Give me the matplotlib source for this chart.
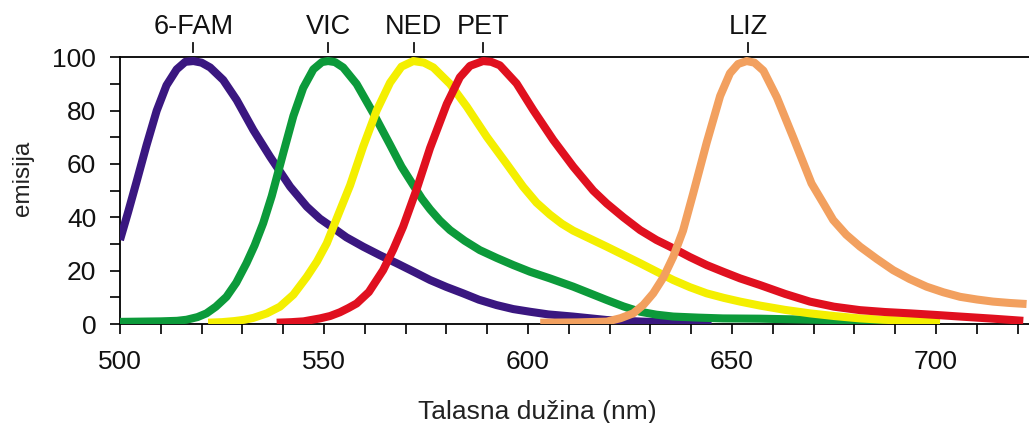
"""Emission spectra of the five capillary-electrophoresis dyes (6-FAM, VIC, NED, PET, LIZ)."""

import matplotlib
matplotlib.use("Agg")
import matplotlib.pyplot as plt
import matplotlib.ticker as mticker
import matplotlib.transforms as mtransforms

plt.rcParams.update({
    "font.family": ["Liberation Sans", "DejaVu Sans"],
    "font.size": 19,
    "axes.linewidth": 1.3,
    "xtick.major.width": 1.3,
    "ytick.major.width": 1.3,
    "xtick.minor.width": 1.3,
    "ytick.minor.width": 1.3,
})

# ---- data (wavelength nm, relative emission) ----
dyes = ["6-FAM", "VIC", "NED", "PET", "LIZ"]
peaks = [518, 551, 572, 589, 654]
colors = ["#3a1780", "#0c9a3a", "#f4ef00", "#e0101f", "#f2a05f"]

fam_x = [500, 502, 504, 506.5, 509, 511.4, 513.9, 516, 518, 520, 522.1, 525.3,
         528.6, 532.7, 536.8, 541.7, 545.8, 549, 552.3, 555.5, 559.6, 563.7,
         567.8, 572, 576, 580, 584.1, 588, 592.3, 596.4, 600.5, 605, 611,
         619.3, 628, 636, 645]
fam_y = [31.5, 42, 53, 67, 80, 89.5, 95.5, 98.3, 98.6, 98, 96.2, 91.5,
         84, 72.7, 62.7, 51.5, 44, 39.5, 36, 32.5, 29, 25.8,
         22.8, 19.6, 16.5, 13.9, 11.5, 9.1, 7.1, 5.6, 4.6, 3.6, 2.8,
         1.5, 0.9, 0.6, 0.5]

vic_x = [500, 505, 510, 514, 516.3, 519, 521.2, 523.5, 526.1, 528.5, 531, 533,
         535.1, 537.2, 540, 542.5, 544.9, 547.4, 549.5, 551, 552.7, 554.7, 558,
         562.1, 566.2, 569, 571.9, 574, 576, 578.4, 580.9, 584.5, 588.2, 592.3,
         596.4, 600.5, 605.4, 611.1, 615.2, 619.3, 623.4, 627.5, 631.5, 635.6,
         641.7, 647.8, 656.9, 670, 681, 696]
vic_y = [0.8, 0.9, 1.0, 1.2, 1.6, 2.6, 4, 6.5, 10.2, 15.5, 22.8, 29.5,
         37.8, 48, 64, 78, 88.5, 95.5, 98.2, 98.6, 98.2, 96.2, 90,
         79, 67.2, 59, 52, 47, 43, 38.8, 35.2, 31.2, 27.7, 24.8,
         22.1, 19.6, 17.1, 14, 11.5, 9, 6.6, 4.6, 3.5, 2.8,
         2.4, 2.1, 2.0, 1.6, 1.3, 0.6]

ned_x = [521.6, 525, 528, 530.5, 532.7, 536, 539.2, 542.5, 545.8, 548.3, 550.7,
         553.5, 556.4, 559.6, 562.9, 566.2, 569, 571.9, 574.5, 576.8, 580.9,
         585, 589.9, 594.8, 598.8, 602.1, 605.4, 608.3, 611.1, 615.2, 619.3,
         623.4, 627.5, 631.6, 635.6, 639.7, 643.8, 648, 652, 656.9, 663,
         669.1, 675, 681.4, 687, 692, 701]
ned_y = [0.5, 0.7, 1.1, 1.6, 2.3, 4, 6.5, 11, 17.7, 23.5, 30.3,
         41, 52, 66.5, 80, 90.5, 96.5, 98.6, 98, 96.2, 90,
         81.5, 70.2, 60, 51.5, 45.5, 41, 37.6, 35, 32, 29,
         25.9, 22.8, 19.6, 16.5, 13.8, 11.5, 9.8, 8.4, 6.9, 5.3,
         4.0, 3.0, 2.1, 1.6, 1.3, 0.9]

pet_x = [538.4, 542, 545, 549, 551.5, 553.9, 556, 558, 561, 564.5, 567, 569.4,
         572.7, 576, 580.1, 583.3, 585.8, 589, 591, 593.1, 597.2, 601.3, 606.2,
         611.1, 616, 619.3, 623.4, 627.5, 631.5, 635.6, 639.7, 643.8, 648, 652,
         656.9, 663, 669.1, 675, 681.4, 687.5, 693.6, 700, 705.9, 714, 721.4]
pet_y = [0.5, 0.7, 1.0, 2.1, 3.0, 4.4, 6, 7.7, 12, 20.2, 28, 36.5,
         50.5, 66, 82.5, 92.5, 96.8, 98.6, 98.3, 97, 90.2, 80.2, 69,
         59, 50, 45.2, 40, 35.2, 31.5, 28.4, 25.1, 22.1, 19.5, 17.1,
         14.6, 11.3, 8.4, 6.5, 5.2, 4.5, 4.0, 3.4, 2.8, 2.0, 1.2]

liz_x = [603, 612, 619.3, 622.7, 625.8, 628.3, 630.7, 633.2, 635.6, 638, 640.5,
         643.8, 647.1, 649.5, 651.5, 653.6, 655.5, 657.7, 661, 665, 669.5,
         672.5, 674.8, 678, 681.4, 685.5, 689.5, 693.5, 697.7, 701.8, 705.9,
         710, 714, 718, 722.2]
liz_y = [0.5, 0.6, 0.9, 2.2, 4, 7.2, 11.5, 17.5, 25.2, 35, 49,
         68, 85.5, 94, 97.5, 98.6, 98, 95, 85, 70, 52.7,
         45, 39, 33.5, 29, 24.4, 20.2, 16.9, 14, 11.9, 10.2,
         9.2, 8.4, 7.9, 7.5]

series = [(fam_x, fam_y), (vic_x, vic_y), (ned_x, ned_y),
          (pet_x, pet_y), (liz_x, liz_y)]

fig = plt.figure(figsize=(10.29, 4.23), dpi=100)
ax = fig.add_axes([0.1166, 0.2340, 0.8834, 0.6305])

for (xs, ys), color in zip(series, colors):
    ax.plot(xs, ys, color=color, linewidth=5.8, solid_capstyle="butt",
            solid_joinstyle="round", zorder=3)

ax.set_xlim(500, 722.8)
ax.set_ylim(0, 100)

ax.spines["right"].set_visible(False)
ax.xaxis.set_major_locator(mticker.MultipleLocator(50))
ax.xaxis.set_minor_locator(mticker.MultipleLocator(10))
ax.yaxis.set_major_locator(mticker.MultipleLocator(20))
ax.yaxis.set_minor_locator(mticker.MultipleLocator(10))
ax.tick_params(which="both", direction="out", length=7, colors="#111111")
ax.tick_params(axis="x", which="major", pad=12, labelsize=19)
ax.tick_params(axis="y", which="major", pad=10, labelsize=19)
ax.tick_params(top=False, right=False, which="both")

# dye names with short markers above the peaks
trans = mtransforms.blended_transform_factory(ax.transData, ax.transAxes)
for name, p in zip(dyes, peaks):
    ax.plot([p, p], [1.02, 1.053], color="#111111", linewidth=1.3,
            transform=trans, clip_on=False)
    ax.text(p, 1.112, name, transform=trans, ha="center", va="center",
            fontsize=19.5, color="#111111")

fig.text(23 / 1029, 1 - 178 / 423, "emisija", rotation=90, ha="center",
         va="center", fontsize=17.5, color="#222222")
fig.text(537 / 1029, 1 - 412 / 423, "Talasna dužina (nm)", ha="center",
         va="center", fontsize=19, color="#222222")

fig.savefig("out.png", dpi=100)
